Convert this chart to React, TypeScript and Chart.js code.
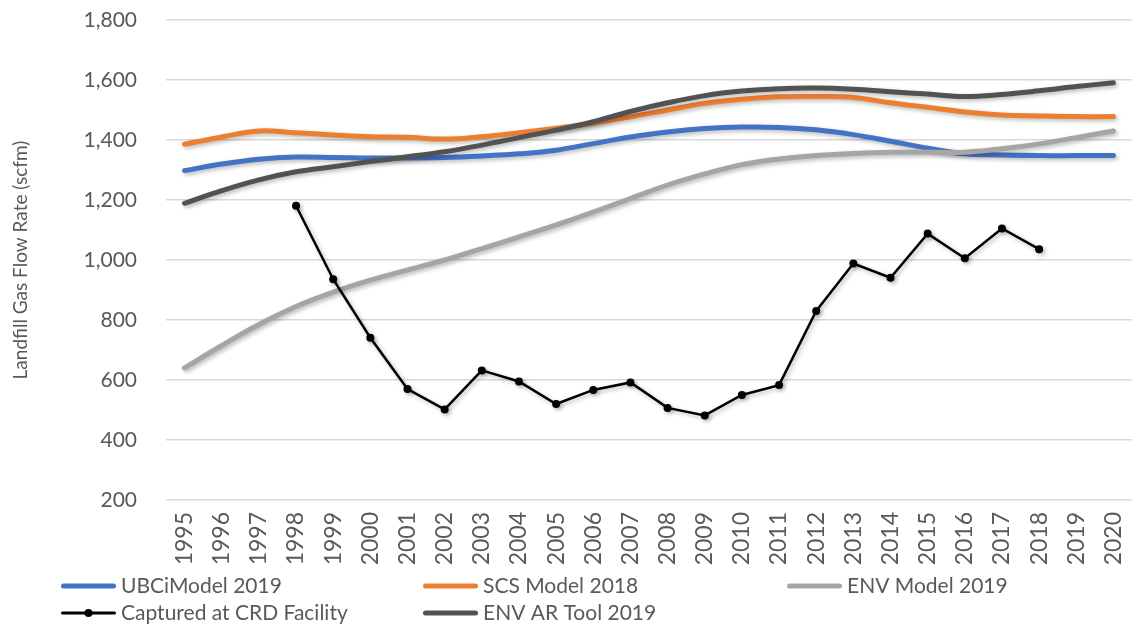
import React, { useEffect, useRef } from "react";
import { Chart, registerables } from "chart.js";

Chart.register(...registerables);

const years = [
  "1995", "1996", "1997", "1998", "1999", "2000", "2001", "2002", "2003", "2004",
  "2005", "2006", "2007", "2008", "2009", "2010", "2011", "2012", "2013", "2014",
  "2015", "2016", "2017", "2018", "2019", "2020",
];

const ubciModel2019 = [
  1298, 1320, 1336, 1343, 1342, 1340, 1340, 1342, 1347, 1354,
  1366, 1388, 1410, 1427, 1438, 1443, 1442, 1434, 1418, 1396,
  1373, 1354, 1350, 1348, 1348, 1348,
];

const scsModel2018 = [
  1386, 1410, 1430, 1424, 1417, 1411, 1409, 1403, 1411, 1424,
  1439, 1456, 1477, 1500, 1522, 1536, 1544, 1545, 1542, 1524,
  1509, 1493, 1483, 1480, 1478, 1478,
];

const envModel2019 = [
  640, 715, 785, 845, 893, 933, 967, 1000, 1038, 1077,
  1117, 1160, 1205, 1250, 1287, 1318, 1337, 1348, 1355, 1359,
  1360, 1359, 1371, 1387, 1408, 1430,
];

const capturedAtCRD = [
  null, null, null, 1181, 936, 741, 570, 502, 632, 595,
  520, 567, 592, 507, 482, 550, 583, 830, 988, 941,
  1088, 1006, 1105, 1036, null, null,
];

const envArTool2019 = [
  1189, 1231, 1267, 1294, 1311, 1328, 1344, 1361, 1383, 1408,
  1433, 1461, 1495, 1524, 1548, 1563, 1571, 1573, 1569, 1561,
  1553, 1545, 1552, 1564, 1578, 1591,
];

const seriesLabels = [
  "UBCiModel 2019",
  "SCS Model 2018",
  "ENV Model 2019",
  "Captured at CRD Facility",
  "ENV AR Tool 2019",
];

const yTitle = "Landfill Gas Flow Rate (scfm)";

const TEXT = "#595959";
const FONT = "Lato, 'Open Sans', sans-serif";

const shadowPlugin = {
  id: "lineShadow",
  beforeDatasetsDraw(chart: any) {
    const ctx = chart.ctx;
    ctx.save();
    ctx.shadowColor = "rgba(0,0,0,0.28)";
    ctx.shadowBlur = 4;
    ctx.shadowOffsetX = 2;
    ctx.shadowOffsetY = 2;
  },
  afterDatasetsDraw(chart: any) {
    chart.ctx.restore();
  },
};

const legendPlugin = {
  id: "gridLegend",
  afterDraw(chart: any) {
    const ctx = chart.ctx;
    const slots = [
      { col: 0, row: 0 },
      { col: 1, row: 0 },
      { col: 2, row: 0 },
      { col: 0, row: 1 },
      { col: 1, row: 1 },
    ];
    const cols = [61, 423, 787];
    const rows = [586, 613];
    ctx.save();
    chart.data.datasets.forEach((ds: any, i: number) => {
      const s = slots[i];
      const x0 = cols[s.col];
      const y = rows[s.row];
      const len = 55;
      ctx.beginPath();
      ctx.strokeStyle = ds.borderColor;
      ctx.lineWidth = ds.legendLineWidth;
      ctx.lineCap = "round";
      ctx.moveTo(x0 + ctx.lineWidth / 2, y);
      ctx.lineTo(x0 + len - ctx.lineWidth / 2, y);
      ctx.stroke();
      if (ds.pointRadius > 0) {
        ctx.beginPath();
        ctx.fillStyle = ds.borderColor;
        ctx.arc(x0 + len / 2, y, ds.pointRadius, 0, Math.PI * 2);
        ctx.fill();
      }
      ctx.fillStyle = TEXT;
      ctx.font = `21px ${FONT}`;
      ctx.textAlign = "left";
      ctx.textBaseline = "middle";
      ctx.fillText(ds.label, x0 + len + 5, y);
    });
    ctx.restore();
  },
};

export default function App() {
  const ref = useRef<HTMLCanvasElement | null>(null);

  useEffect(() => {
    if (!ref.current) return;
    const smooth = (label: string, data: number[], color: string, order: number) => ({
      label,
      data,
      borderColor: color,
      backgroundColor: color,
      borderWidth: 5,
      legendLineWidth: 5,
      pointRadius: 0,
      pointHoverRadius: 0,
      tension: 0.4,
      borderCapStyle: "round",
      borderJoinStyle: "round",
      fill: false,
      order,
    });
    const chart = new Chart(ref.current, {
      type: "line",
      data: {
        labels: years,
        datasets: [
          smooth(seriesLabels[0], ubciModel2019, "#4472C4", 5),
          smooth(seriesLabels[1], scsModel2018, "#ED7D31", 4),
          smooth(seriesLabels[2], envModel2019, "#A5A5A5", 3),
          {
            label: seriesLabels[3],
            data: capturedAtCRD,
            borderColor: "#000000",
            backgroundColor: "#000000",
            borderWidth: 2.5,
            legendLineWidth: 3,
            pointRadius: 4,
            pointBackgroundColor: "#000000",
            pointBorderColor: "#000000",
            pointBorderWidth: 0,
            tension: 0,
            spanGaps: false,
            fill: false,
            order: 2,
          } as any,
          smooth(seriesLabels[4], envArTool2019, "#525252", 1),
        ] as any,
      },
      options: {
        animation: false,
        responsive: false,
        maintainAspectRatio: false,
        events: [],
        layout: { padding: { top: 20, right: 0, bottom: 0, left: 0 } },
        plugins: {
          legend: { display: false },
          tooltip: { enabled: false },
          title: { display: false },
        },
        scales: {
          x: {
            type: "category",
            offset: true,
            grid: { display: false, drawTicks: false },
            border: { display: false },
            ticks: {
              autoSkip: false,
              maxRotation: 90,
              minRotation: 90,
              padding: 12,
              color: TEXT,
              font: { family: FONT, size: 23 },
            },
            afterFit(s: any) {
              s.height = 126;
              s.paddingLeft = 0;
              s.paddingRight = 0;
            },
          },
          y: {
            min: 200,
            max: 1800,
            ticks: {
              stepSize: 200,
              padding: 29,
              color: TEXT,
              font: { family: FONT, size: 21 },
            },
            grid: { color: "#D9D9D9", lineWidth: 1.5, drawTicks: false },
            border: { display: false },
            title: {
              display: true,
              text: yTitle,
              color: TEXT,
              font: { family: FONT, size: 19 },
              padding: { top: 9, bottom: 0 },
            },
            afterFit(s: any) {
              s.width = 166;
              s.paddingTop = 0;
              s.paddingBottom = 0;
            },
          },
        },
      } as any,
      plugins: [shadowPlugin, legendPlugin],
    });
    return () => chart.destroy();
  }, []);

  return (
    <div style={{ position: "absolute", left: 0, top: 0, width: 1136, height: 626, background: "#fff" }}>
      <canvas ref={ref} width={1136} height={626} style={{ width: 1136, height: 626, display: "block" }} />
    </div>
  );
}
